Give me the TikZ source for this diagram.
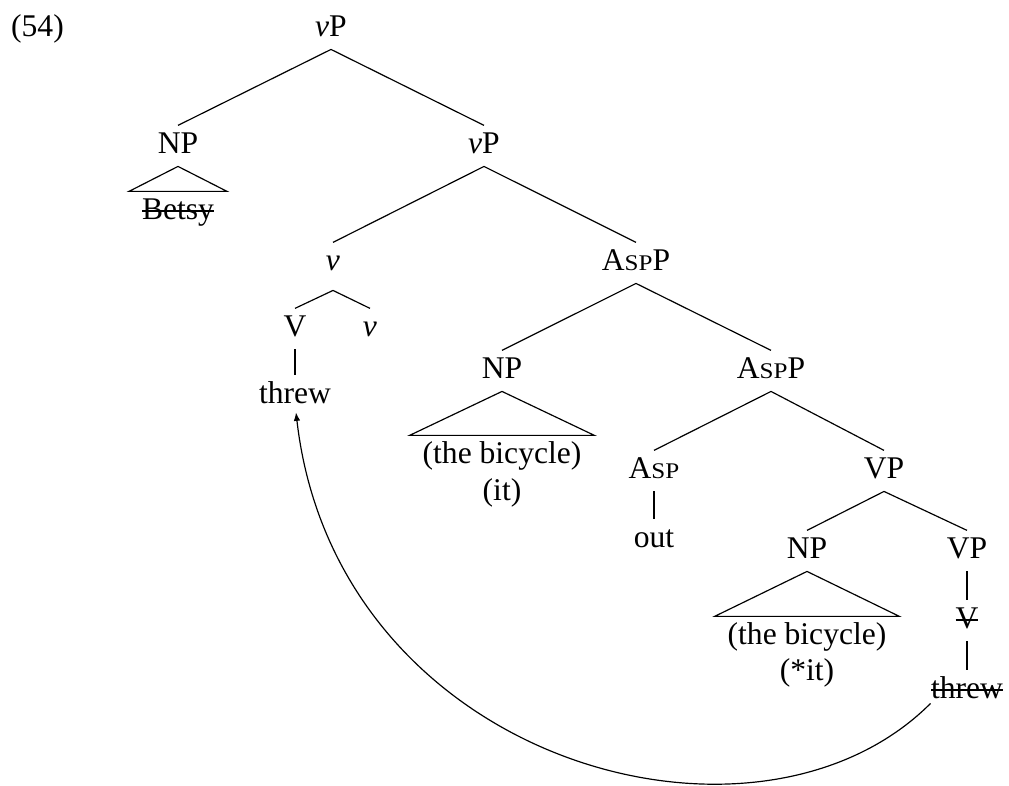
\documentclass[tikz,border=0pt]{standalone}
\usepackage{fontspec}
\setmainfont{Liberation Serif}
\newfontfamily\scfont[FakeStretch=1.12]{Liberation Serif}
\usetikzlibrary{arrows.meta,calc}
\newcommand{\smc}[1]{{\scfont\fontsize{8.5}{10}\selectfont #1}}
\newcommand{\Asp}{A\smc{SP}}
\newcommand{\vv}{\textit{v}}
\newcommand{\strk}[1]{\setbox0=\hbox{#1}\rlap{\rule[2.6pt]{\wd0}{0.7pt}}\box0}
\begin{document}
\begin{tikzpicture}[x=0.38pt,y=-0.38pt,
  lab/.style={anchor=base, inner xsep=0pt, inner ysep=1.9pt, text height=8.4pt, text depth=3pt, font=\fontsize{12}{14.5}\selectfont},
  leaf/.style={lab, inner xsep=4.75pt},
  edge/.style={draw, line width=0.45pt},
  mvarrow/.style={draw, line width=0.45pt, -{Latex[length=3.2pt,width=2.5pt]}}]
\useasboundingbox (0,0) rectangle (1009,785);
% nodes
\node[lab] (ex) at (37.5,36) {(54)};
\node[lab] (vP1) at (331,36) {\vv P};
\node[lab] (NP1) at (178,153) {NP};
\node[lab] (vP2) at (484,153) {\vv P};
\node[leaf] (betsy) at (178,219) {\strk{Betsy}};
\node[lab] (v1) at (333,270) {\vv};
\node[lab] (aspp1) at (636,270) {\Asp P};
\node[lab] (V1) at (295,336) {V};
\node[lab] (v2) at (370,336) {\vv};
\node[lab] (threw1) at (295,403) {threw};
\node[lab] (NP2) at (502,378) {NP};
\node[lab] (aspp2) at (771,378) {\Asp P};
\node[leaf] (bike1) at (502,463) {(the bicycle)};
\node[lab] (it1) at (502,500) {(it)};
\node[lab] (asp) at (654,478) {\Asp};
\node[lab] (out) at (654,547) {out};
\node[lab] (VP1) at (884,478) {VP};
\node[lab] (NP3) at (807,558) {NP};
\node[lab] (VP2) at (967,558) {VP};
\node[leaf] (bike2) at (807,644) {(the bicycle)};
\node[lab] (it2) at (807,680) {(*it)};
\node[lab] (Vs) at (967,628) {\strk{V}};
\node[lab] (threw2) at (967,698) {\strk{threw}};
% edges
\path[edge] (vP1.south) -- (NP1.north);
\path[edge] (vP1.south) -- (vP2.north);
\path[edge] (NP1.south) -- (betsy.north west) -- (betsy.north east) -- cycle;
\path[edge] (vP2.south) -- (v1.north);
\path[edge] (vP2.south) -- (aspp1.north);
\path[edge] ($(v1.south)+(0,7)$) -- (V1.north);
\path[edge] ($(v1.south)+(0,7)$) -- (v2.north);
\path[edge] (V1.south) -- (threw1.north);
\path[edge] (aspp1.south) -- (NP2.north);
\path[edge] (aspp1.south) -- (aspp2.north);
\path[edge] (NP2.south) -- (bike1.north west) -- (bike1.north east) -- cycle;
\path[edge] (aspp2.south) -- (asp.north);
\path[edge] (aspp2.south) -- (VP1.north);
\path[edge] (asp.south) -- (out.north);
\path[edge] (VP1.south) -- (NP3.north);
\path[edge] (VP1.south) -- (VP2.north);
\path[edge] (NP3.south) -- (bike2.north west) -- (bike2.north east) -- cycle;
\path[edge] (VP2.south) -- (Vs.north);
\path[edge] (Vs.south) -- (threw2.north);
% movement arrow
\path[mvarrow] ($(threw2.south west)+(0,-8)$) .. controls +(-175,175) and +(40,350) .. ($(threw1.south)+(1,-4)$);
\end{tikzpicture}
\end{document}
